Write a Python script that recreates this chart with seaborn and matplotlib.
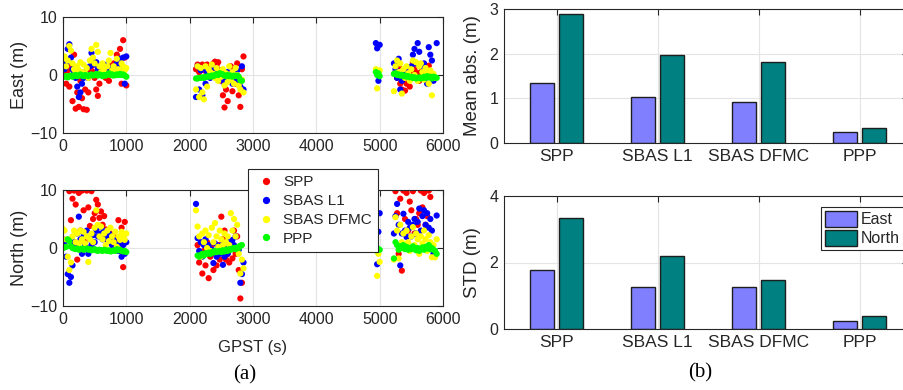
import numpy as np
import pandas as pd
import matplotlib
matplotlib.use("Agg")
import matplotlib.pyplot as plt
import seaborn as sns
from matplotlib.lines import Line2D
from matplotlib.patches import Patch

nan = np.nan

# ---------------- data ----------------
methods = ["SPP", "SBAS L1", "SBAS DFMC", "PPP"]
directions = ["East", "North"]

# epochs (GPST, s) of the plotted samples, four data segments
t_a = [0, 25, 50, 75, 100, 125, 150, 175, 200, 225, 250, 275, 300, 325, 350, 375, 400, 425, 450, 475,
       500, 525, 550, 575, 600, 625, 650, 675, 700, 725, 750, 775, 800, 825, 850, 875, 900, 925, 950, 975, 1000]
t_b = [2100, 2125, 2150, 2175, 2200, 2225, 2250, 2275, 2300, 2325, 2350, 2375, 2400, 2425, 2450, 2475,
       2500, 2525, 2550, 2575, 2600, 2625, 2650, 2675, 2700, 2725, 2750, 2775, 2800, 2825, 2850]
t_c = [4940, 4960, 4980, 5000]
t_d = [5225, 5250, 5275, 5300, 5325, 5350, 5375, 5400, 5425, 5450, 5475, 5500, 5525, 5550,
       5575, 5600, 5625, 5650, 5675, 5700, 5725, 5750, 5775, 5800, 5825, 5850, 5875, 5900]

# East errors (m)
east_spp = ([0.5, 1.0, -1.5, 0.8, -2.0, 1.5, -4.5, 3.5, -5.8, -3.0,
             -5.5, -1.0, -4.0, -5.9, -2.5, -6.0, -3.0, 0.5, 1.5, 0.5,
             -0.5, -2.5, -3.6, -1.5, 0.8, 1.5, 0.5, -0.5, 1.2, -1.0,
             1.5, 0.5, 2.0, 1.0, 3.5, 2.0, 4.5, -1.5, 6.0, 3.0, -1.8]
            + [1.0, 1.8, 0.5, 1.5, 1.8, 0.8, 1.5, 1.8, 1.0, 0.5,
               1.5, 2.0, 2.3, 1.5, 2.2, 0.8, -1.0, -3.5, -5.6, -2.5,
               -4.5, -0.5, 1.5, -2.8, 1.0, -1.5, 2.0, -3.5, -5.5, 1.0, 3.2]
            + [nan, nan, nan, nan]
            + [nan, 0.5, -0.5, 1.5, -1.5, -2.5, -1.0, -2.7, -1.5, -0.8,
               -2.0, 0.5, 2.2, 1.0, -0.5, 0.3, -1.0, 0.5, -0.3, 0.2,
               -0.5, 1.0, 1.6, 0.2, -0.5, nan, nan, nan])
east_l1 = ([1.5, 1.0, 2.0, 4.5, 5.3, 3.0, 1.0, 0.5, -0.5, -2.0,
            -3.8, -3.0, -1.5, -0.5, 0.5, 0.0, -0.5, 1.5, 3.8, 2.5,
            1.8, 2.2, 1.0, 0.5, 1.5, 0.8, 1.8, 0.5, 1.0, 0.2,
            0.5, 1.2, 0.5, 1.5, 2.0, 1.5, 2.8, 1.5, 3.0, -1.5, 3.2]
           + [-3.8, 1.5, -2.5, 0.8, -3.5, 1.2, -1.5, 0.5, 0.0, -0.5,
              0.5, 1.0, 1.2, 0.2, -0.5, 0.5, -0.8, 0.0, -1.5, -0.5,
              0.5, -1.0, 0.3, -1.5, 0.0, -0.5, 0.8, -1.0, -2.0, 1.5, -2.5]
           + [5.5, 4.6, -1.0, 5.2]
           + [2.0, 1.0, -0.5, 2.8, -2.5, -1.0, 0.5, -0.5, 1.0, 0.0,
              -0.8, 1.5, 3.5, 4.5, 2.0, 5.5, 4.0, 1.5, -0.5, 2.0,
              0.5, -1.5, 4.8, 3.5, 2.5, -1.0, nan, 5.5])
east_dfmc = ([2.8, 3.2, 1.5, 2.5, 5.0, 4.2, 2.0, 1.0, 0.5, 1.5,
              0.8, 2.2, 0.5, 1.8, 0.3, 1.2, -0.5, 2.5, 4.5, 3.0,
              2.0, 5.2, 4.0, 1.5, 0.5, 2.0, 1.2, 0.3, 1.5, 2.5,
              3.8, 0.8, 1.5, 0.5, 2.8, 1.0, 0.5, 2.0, 1.5, 0.8, 1.2]
             + [-2.5, 1.5, -3.8, 1.2, -3.0, -4.2, 1.5, -2.0, 1.0, 0.5,
                1.8, 0.2, -0.5, 1.2, -1.0, 0.5, -0.3, 1.0, -1.8, 0.3,
                -1.2, 1.5, -0.8, 0.5, -1.5, 1.2, 0.0, -1.8, -2.5, -0.8, -3.0]
             + [1.0, -2.3, 0.5, 0.8]
             + [-2.8, 1.5, 2.5, 0.5, 2.0, -3.2, 1.0, -0.5, 1.5, 0.3,
                -1.0, 1.0, 2.5, 0.0, 2.2, -1.0, 1.5, 2.0, 0.5, -0.8,
                1.2, 0.3, -1.5, 0.8, -3.5, 0.2, -0.5, nan])
east_ppp = ([-0.3, -0.3, -0.2, -0.4, -0.2, -0.1, -0.3, -0.1, 0.0, -0.2,
             -0.1, 0.1, -0.1, -0.2, 0.0, -0.1, -0.2, 0.0, 0.1, -0.1,
             0.0, 0.2, -0.1, 0.1, 0.0, -0.2, 0.0, -0.1, 0.1, 0.3,
             0.0, 0.1, -0.1, 0.0, 0.1, 0.0, 0.2, 0.0, 0.1, -0.1, -0.3]
            + [-0.6, -0.6, -0.5, -0.5, -0.4, -0.5, -0.3, -0.3, -0.2, -0.3,
               -0.1, -0.2, 0.0, 0.1, 0.0, 0.3, 0.2, 0.1, -0.1, -0.2,
               0.0, -0.2, -0.1, -0.3, -0.1, -0.2, -0.1, -0.3, -0.9, -1.0, nan]
            + [0.5, 0.0, 0.3, -0.2]
            + [0.2, 0.3, 0.0, 0.1, -0.1, 0.0, -0.2, -0.1, -0.3, -0.2,
               -0.4, -0.3, -0.5, -0.4, -0.6, -0.5, -0.4, -0.6, -0.5, -0.3,
               -0.5, -0.2, -0.4, -0.3, -0.6, -0.3, -0.4, -0.5])

# North errors (m)
north_spp = ([nan, nan, nan, nan, 9.8, 4.8, 8.5, 9.9, 7.5, -2.0,
              9.5, 3.0, 9.9, 6.5, 1.0, 9.9, 7.0, 3.8, 9.8, 5.0,
              6.0, 8.3, 7.5, 5.2, 6.3, 4.0, 5.5, 3.2, 2.5, 1.8,
              2.5, 1.5, 0.8, 2.0, 1.0, 4.8, -0.5, 3.5, -3.3, 4.5, nan]
             + [nan, 0.5, -2.5, -1.0, -4.4, -0.5, -3.0, 1.0, -5.2, -1.5,
                0.5, -3.8, -1.0, -3.0, 0.5, -2.0, 5.4, 1.5, 3.0, -2.0,
                -1.0, -2.5, 0.5, -1.8, 3.0, -1.0, 2.0, -3.8, -8.7, -6.0, nan]
             + [nan, nan, nan, nan]
             + [nan, 9.8, 6.0, -1.0, 8.5, -3.9, 9.9, 5.0, 9.5, 3.0,
                8.0, 6.5, 9.8, 2.5, 5.0, 4.0, 6.0, 9.9, 7.0, 9.5,
                4.0, 5.5, 9.9, 8.8, nan, nan, nan, nan])
north_l1 = ([1.5, 1.0, -1.5, -4.5, -6.0, -5.0, -3.0, 1.0, 0.5, 2.5,
             5.4, 1.5, -1.0, 2.0, 0.5, 3.0, -1.0, 1.5, 0.5, 2.2,
             1.0, 3.0, 2.0, 3.7, 2.5, 1.5, 3.0, 2.0, 1.4, 2.5,
             1.0, 0.5, 1.5, 0.8, 0.2, -0.5, 0.8, -1.5, 0.5, -1.0, 1.0]
            + [7.6, 1.7, -0.5, 1.0, -1.5, 0.5, 1.5, -0.8, 0.5, -1.0,
               -0.3, -2.6, 0.8, -1.5, 0.3, -1.0, 0.5, -2.9, -1.5, 0.5,
               -1.0, 1.0, 0.0, 1.4, 0.5, 2.0, 0.0, -0.3, -6.0, -4.5, -2.5]
            + [4.5, -2.8, 2.8, 6.0]
            + [2.5, 5.5, 7.6, 4.0, -3.0, 2.5, 5.9, 3.0, 1.9, 4.5,
               3.5, 2.0, 4.0, 5.0, 2.5, 4.5, 6.8, 3.0, 5.5, 6.5,
               4.0, 6.0, 3.5, 5.0, 3.0, -1.0, nan, 5.6])
north_dfmc = ([3.3, 3.0, 1.5, -1.5, -3.8, -2.5, 2.0, 3.0, 1.0, 2.5,
               0.8, 3.0, 1.5, 2.8, 0.8, 2.0, -2.4, 1.5, 2.5, 1.0,
               3.5, 6.5, 4.0, 2.0, 3.7, 1.5, 2.5, 0.5, 3.0, 1.2,
               3.5, 2.0, 1.0, 2.8, 0.2, 2.0, 1.4, 2.8, 2.0, 1.4, 2.5]
              + [6.5, 3.7, 2.0, -1.5, 2.5, 1.0, 3.0, 0.0, 2.2, -0.5,
                 3.5, 1.0, 4.3, 2.0, 0.2, 3.0, 1.5, 0.5, 2.5, 1.0,
                 2.0, 0.5, 6.0, 3.0, 5.0, 2.0, 4.0, -1.0, -4.4, -2.0, -3.5]
              + [1.3, -4.8, -1.0, -2.4]
              + [-2.0, 5.3, 3.0, -1.8, 4.0, 1.0, 2.5, 0.0, 3.0, 1.0,
                 -0.5, 2.0, 3.6, 0.5, 2.5, 1.5, -1.0, 2.0, 0.8, 3.0,
                 1.5, -0.5, 2.2, 1.0, -1.6, 0.5, -1.6, 1.5])
north_ppp = ([0.0, 0.1, 0.2, 1.5, 1.2, 0.3, 0.0, -0.1, -0.2, -0.1,
              -0.3, -0.2, -0.1, -0.3, -0.2, -0.1, -0.3, -0.2, -0.4, -0.3,
              -0.2, -0.4, -0.5, -0.3, -0.4, -0.5, -0.3, -0.4, -0.5, -0.4,
              -0.6, -0.5, -0.4, -0.5, -0.2, -0.4, -0.3, -0.5, -0.6, -0.5, -0.7]
             + [nan, -1.3, -1.5, -1.2, -1.0, -1.3, -0.9, -1.0, -0.8, -1.0,
                -0.7, -0.8, -0.5, -0.7, -0.6, -0.5, -0.7, -0.4, -0.6, -0.3,
                -0.5, -0.2, -0.3, -0.1, 0.0, -0.2, 0.1, 0.0, 0.4, 0.5, nan]
             + [-0.4, 0.0, -0.2, -0.3]
             + [-1.8, 1.0, 0.5, -0.3, 0.3, 0.0, 0.5, -0.2, 0.2, -0.3,
                0.0, -0.2, 0.3, -0.1, -0.4, 0.0, -0.5, -0.2, 0.1, -0.3,
                0.2, -0.1, 0.5, -0.2, 0.0, -0.3, -0.5, -1.0])

# statistics (m)
mean_abs_east = [1.35, 1.04, 0.91, 0.25]
mean_abs_north = [2.88, 1.96, 1.82, 0.34]
std_east = [1.77, 1.26, 1.26, 0.24]
std_north = [3.33, 2.21, 1.48, 0.39]

# ---------------- build tables ----------------
t_all = t_a + t_b + t_c + t_d


def scatter_table(series):
    frames = []
    for m, vals in zip(methods, series):
        assert len(vals) == len(t_all), (m, len(vals))
        frames.append(pd.DataFrame({"method": m, "t": t_all, "v": vals}))
    return pd.concat(frames, ignore_index=True).dropna()


df_east = scatter_table([east_spp, east_l1, east_dfmc, east_ppp])
df_north = scatter_table([north_spp, north_l1, north_dfmc, north_ppp])


def bar_table(east_vals, north_vals):
    return pd.DataFrame({
        "method": methods * 2,
        "dir": ["East"] * 4 + ["North"] * 4,
        "val": east_vals + north_vals,
    })


df_mean = bar_table(mean_abs_east, mean_abs_north)
df_std = bar_table(std_east, std_north)

# ---------------- styling ----------------
sns.set_theme(style="white")
plt.rcParams["font.family"] = ["Liberation Sans", "DejaVu Sans"]

pt_colors = {"SPP": "#FF0000", "SBAS L1": "#0000FF", "SBAS DFMC": "#FFFF00", "PPP": "#00FF00"}
bar_colors = {"East": "#8080FF", "North": "#008080"}
dark = "#262626"

W, H = 904, 390
fig = plt.figure(figsize=(W / 100, H / 100), dpi=100)


def box(l, t, r, b):
    return [l / W, 1 - b / H, (r - l) / W, (b - t) / H]


def matlab_axes(ax, labelsize=11.5):
    for s in ax.spines.values():
        s.set_color(dark)
        s.set_linewidth(0.8)
        s.set_visible(True)
    ax.tick_params(direction="in", length=4, width=0.8, top=True, right=True,
                   colors=dark, labelsize=labelsize, pad=4)
    ax.grid(True, color="#e4e4e4", linewidth=0.8)
    ax.set_axisbelow(True)


ax_e = fig.add_axes(box(63, 17, 443, 133))
ax_n = fig.add_axes(box(63, 190, 443, 306))
ax_m = fig.add_axes(box(504, 9, 908, 143))
ax_s = fig.add_axes(box(504, 196, 908, 329))

for ax, df, lab in [(ax_e, df_east, "East (m)"), (ax_n, df_north, "North (m)")]:
    sns.scatterplot(data=df, x="t", y="v", hue="method", hue_order=methods,
                    palette=pt_colors, s=20, linewidth=0, edgecolor="none",
                    legend=False, ax=ax)
    matlab_axes(ax)
    ax.set_xlim(0, 6000)
    ax.set_ylim(-10, 10)
    ax.set_xticks([0, 1000, 2000, 3000, 4000, 5000, 6000])
    ax.set_yticks([-10, 0, 10])
    ax.set_xlabel("")
    ax.set_ylabel(lab, fontsize=13, color=dark)
    ax.yaxis.set_label_coords(-0.093, 0.5)

ax_n.set_xlabel("GPST (s)", fontsize=12, color=dark)
ax_n.xaxis.set_label_coords(0.5, -0.29)

for ax, df, lab, ylim, yt in [(ax_m, df_mean, "Mean abs. (m)", (0, 3), [0, 1, 2, 3]),
                              (ax_s, df_std, "STD (m)", (0, 4), [0, 2, 4])]:
    sns.barplot(data=df, x="method", y="val", hue="dir", order=methods,
                hue_order=directions, palette=bar_colors, saturation=1,
                width=0.576, gap=0.1667, edgecolor="#1e1e1e", linewidth=1.0,
                errorbar=None, legend=False, ax=ax)
    matlab_axes(ax)
    ax.tick_params(axis="x", labelsize=12.5)
    ax.set_xlim(-0.52, 3.48)
    ax.set_ylim(*ylim)
    ax.set_yticks(yt)
    ax.set_xlabel("")
    ax.set_ylabel(lab, fontsize=13.5, color=dark)
    ax.yaxis.set_label_coords(-0.058, 0.5)

# legends
pt_handles = [Line2D([0], [0], marker="o", linestyle="none", markersize=4.2,
                     markerfacecolor=pt_colors[m], markeredgecolor=pt_colors[m], label=m)
              for m in methods]
leg1 = ax_n.legend(handles=pt_handles, loc="upper left",
                   bbox_to_anchor=(248 / W, 1 - 169 / H), bbox_transform=fig.transFigure,
                   frameon=True, fancybox=False, framealpha=1, edgecolor=dark,
                   fontsize=11, handlelength=1.6, handletextpad=0.3,
                   borderpad=0.4, labelspacing=0.32, borderaxespad=0)
leg1.get_frame().set_linewidth(0.8)

bar_handles = [Patch(facecolor=bar_colors[d], edgecolor="#1e1e1e", linewidth=1.0, label=d)
               for d in directions]
leg2 = ax_s.legend(handles=bar_handles, loc="upper left",
                   bbox_to_anchor=(821 / W, 1 - 207 / H), bbox_transform=fig.transFigure,
                   frameon=True, fancybox=False, framealpha=1, edgecolor=dark,
                   fontsize=11.5, handlelength=2.0, handleheight=1.15, handletextpad=0.25,
                   borderpad=0.25, labelspacing=0.15, borderaxespad=0)
leg2.get_frame().set_linewidth(0.8)

fig.text(245 / W, 1 - 375 / H, "(a)", ha="center", va="center",
         family=["Liberation Serif", "DejaVu Serif"], fontsize=15, color="black")
fig.text(700 / W, 1 - 373 / H, "(b)", ha="center", va="center",
         family=["Liberation Serif", "DejaVu Serif"], fontsize=15, color="black")

fig.savefig("out.png", dpi=100)
